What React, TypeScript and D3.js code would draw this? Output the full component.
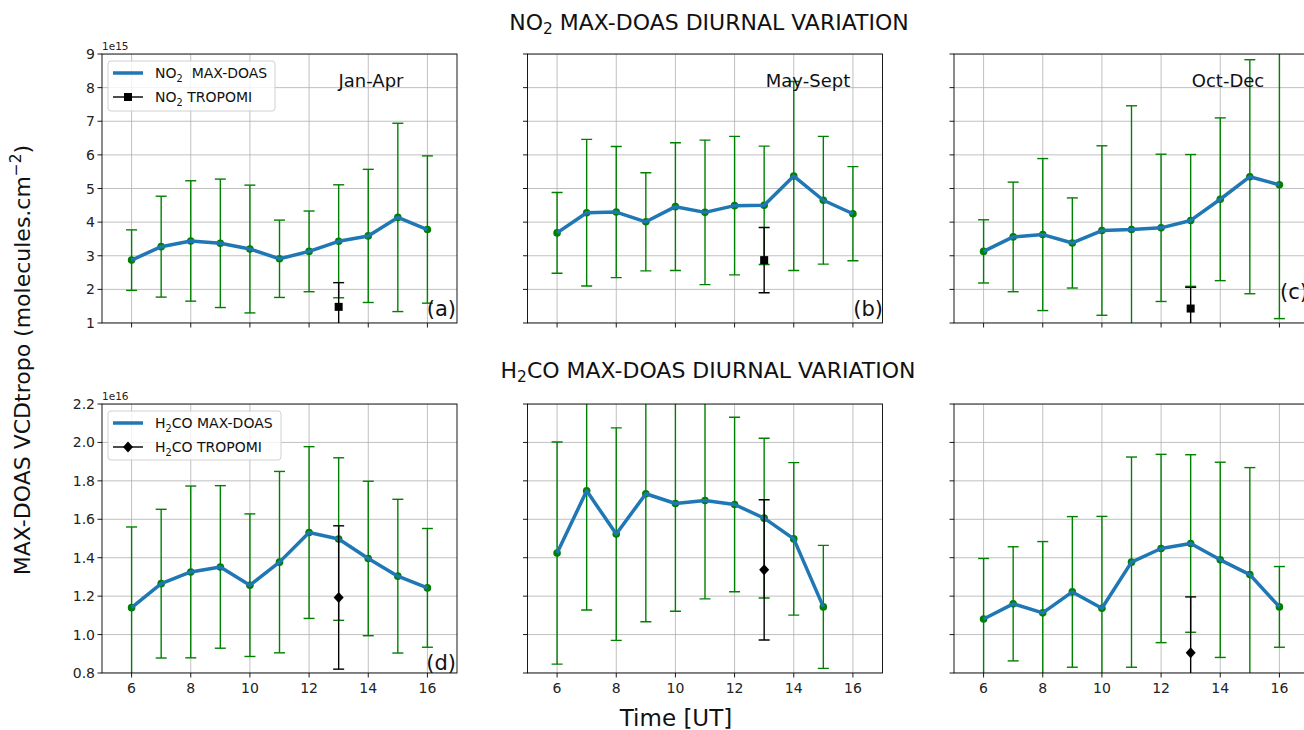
import React from 'react';
import * as d3 from 'd3';

const hours = [6, 7, 8, 9, 10, 11, 12, 13, 14, 15, 16];

// NO2 MAX-DOAS (1e15 molecules/cm2), mean and error half-width
const no2JanAprMean = [2.87, 3.27, 3.44, 3.37, 3.2, 2.91, 3.13, 3.43, 3.59, 4.14, 3.78];
const no2JanAprErr = [0.9, 1.5, 1.79, 1.91, 1.9, 1.15, 1.2, 1.68, 1.98, 2.8, 2.19];
const no2MaySeptMean = [3.68, 4.28, 4.3, 4.01, 4.46, 4.29, 4.49, 4.5, 5.37, 4.65, 4.25];
const no2MaySeptErr = [1.2, 2.18, 1.95, 1.46, 1.9, 2.15, 2.06, 1.76, 2.81, 1.9, 1.4];
const no2OctDecMean = [3.13, 3.56, 3.63, 3.38, 3.75, 3.78, 3.83, 4.05, 4.68, 5.35, 5.11];
const no2OctDecErr = [0.94, 1.63, 2.26, 1.34, 2.52, 3.68, 2.19, 1.96, 2.42, 3.48, 3.98];

// H2CO MAX-DOAS (1e16 molecules/cm2)
const h2coJanAprMean = [1.14, 1.265, 1.326, 1.352, 1.257, 1.377, 1.531, 1.497, 1.396, 1.304, 1.243];
const h2coJanAprErr = [0.42, 0.387, 0.447, 0.423, 0.371, 0.472, 0.447, 0.423, 0.402, 0.4, 0.309];
const h2coMaySeptMean = [1.424, 1.748, 1.523, 1.733, 1.682, 1.698, 1.677, 1.606, 1.498, 1.144, null];
const h2coMaySeptErr = [0.578, 0.62, 0.553, 0.666, 0.561, 0.512, 0.454, 0.416, 0.397, 0.32, null];
const h2coOctDecMean = [1.081, 1.16, 1.113, 1.222, 1.137, 1.377, 1.448, 1.474, 1.389, 1.312, 1.144];
const h2coOctDecErr = [0.315, 0.297, 0.371, 0.392, 0.478, 0.547, 0.49, 0.462, 0.508, 0.557, 0.21];

// TROPOMI overpass values
const tropomiHour = 13;
const no2TropomiMean = [1.48, 2.87, 1.43];
const no2TropomiErr = [0.72, 0.97, 0.63];
const h2coTropomiMean = [1.193, 1.337, 0.906];
const h2coTropomiErr = [0.373, 0.365, 0.29];

const seasons = ['Jan-Apr', 'May-Sept', 'Oct-Dec'];
const no2Ticks = [1, 2, 3, 4, 5, 6, 7, 8, 9];
const h2coTicks = [0.8, 1.0, 1.2, 1.4, 1.6, 1.8, 2.0, 2.2];
const xTicks = [6, 8, 10, 12, 14, 16];

const FONT = 'DejaVu Sans, sans-serif';
const GREEN = '#008000';
const BLUE = '#1f77b4';

const colLeft = [102, 527.5, 954];
const panelW = 355;
const rowTop = [54, 404];
const panelH = 269;

type PanelProps = {
  id: string;
  col: number;
  row: number;
  means: (number | null)[];
  errs: (number | null)[];
  tMean: number;
  tErr: number;
  domain: [number, number];
  ticks: number[];
  showYLabels: boolean;
  showXLabels: boolean;
  marker: 'square' | 'diamond';
};

function Panel(p: PanelProps) {
  const x0 = colLeft[p.col];
  const y0 = rowTop[p.row];
  const x = d3.scaleLinear().domain([5, 17]).range([x0, x0 + panelW]);
  const y = d3.scaleLinear().domain(p.domain).range([y0 + panelH, y0]);
  const pts = hours
    .map((h, i) => ({ h, m: p.means[i], e: p.errs[i] }))
    .filter((d) => d.m !== null) as { h: number; m: number; e: number }[];
  const line = d3
    .line<{ h: number; m: number }>()
    .x((d) => x(d.h))
    .y((d) => y(d.m));
  const cap = 5.5;
  const fmt = p.row === 0 ? (v: number) => d3.format('d')(v) : (v: number) => d3.format('.1f')(v);
  const bottom = y0 + panelH;
  return (
    <g>
      <defs>
        <clipPath id={p.id}>
          <rect x={x0} y={y0} width={panelW} height={panelH} />
        </clipPath>
      </defs>
      <rect x={x0} y={y0} width={panelW} height={panelH} fill="white" />
      <g clipPath={`url(#${p.id})`}>
        {xTicks.map((t) => (
          <line key={'gx' + t} x1={x(t)} x2={x(t)} y1={y0} y2={bottom} stroke="#b0b0b0" strokeWidth={0.8} />
        ))}
        {p.ticks.map((t) => (
          <line key={'gy' + t} x1={x0} x2={x0 + panelW} y1={y(t)} y2={y(t)} stroke="#b0b0b0" strokeWidth={0.8} />
        ))}
        {pts.map((d) => (
          <g key={'e' + d.h} stroke={GREEN} strokeWidth={1.4}>
            <line x1={x(d.h)} x2={x(d.h)} y1={y(d.m - d.e)} y2={y(d.m + d.e)} />
            <line x1={x(d.h) - cap} x2={x(d.h) + cap} y1={y(d.m - d.e)} y2={y(d.m - d.e)} />
            <line x1={x(d.h) - cap} x2={x(d.h) + cap} y1={y(d.m + d.e)} y2={y(d.m + d.e)} />
          </g>
        ))}
        {pts.map((d) => (
          <circle key={'c' + d.h} cx={x(d.h)} cy={y(d.m)} r={3.8} fill={GREEN} />
        ))}
        <path d={line(pts) || ''} fill="none" stroke={BLUE} strokeWidth={3.5} strokeLinejoin="round" />
        <g stroke="black" strokeWidth={1.4}>
          <line x1={x(tropomiHour)} x2={x(tropomiHour)} y1={y(p.tMean - p.tErr)} y2={y(p.tMean + p.tErr)} />
          <line x1={x(tropomiHour) - cap} x2={x(tropomiHour) + cap} y1={y(p.tMean - p.tErr)} y2={y(p.tMean - p.tErr)} />
          <line x1={x(tropomiHour) - cap} x2={x(tropomiHour) + cap} y1={y(p.tMean + p.tErr)} y2={y(p.tMean + p.tErr)} />
        </g>
        {p.marker === 'square' ? (
          <rect x={x(tropomiHour) - 4} y={y(p.tMean) - 4} width={8} height={8} fill="black" />
        ) : (
          <path
            d={`M${x(tropomiHour)},${y(p.tMean) - 5.5} L${x(tropomiHour) + 5},${y(p.tMean)} L${x(tropomiHour)},${y(p.tMean) + 5.5} L${x(tropomiHour) - 5},${y(p.tMean)} Z`}
            fill="black"
          />
        )}
      </g>
      <rect x={x0} y={y0} width={panelW} height={panelH} fill="none" stroke="black" strokeWidth={0.9} />
      {xTicks.map((t) => (
        <g key={'xt' + t}>
          <line x1={x(t)} x2={x(t)} y1={bottom} y2={bottom + 4.5} stroke="black" strokeWidth={0.9} />
          {p.showXLabels && (
            <text x={x(t)} y={bottom + 20} textAnchor="middle" fontSize={14} fontFamily={FONT} fill="#222">
              {t}
            </text>
          )}
        </g>
      ))}
      {p.ticks.map((t) => (
        <g key={'yt' + t}>
          <line x1={x0 - 4.5} x2={x0} y1={y(t)} y2={y(t)} stroke="black" strokeWidth={0.9} />
          {p.showYLabels && (
            <text x={x0 - 7} y={y(t) + 5} textAnchor="end" fontSize={14} fontFamily={FONT} fill="#222">
              {fmt(t)}
            </text>
          )}
        </g>
      ))}
    </g>
  );
}

function Sub({ base, sub, rest }: { base: string; sub: string; rest: string }) {
  return (
    <>
      {base}
      <tspan fontSize="70%" dy={4}>
        {sub}
      </tspan>
      <tspan dy={-4}>{rest}</tspan>
    </>
  );
}

export default function App() {
  const no2Means = [no2JanAprMean, no2MaySeptMean, no2OctDecMean];
  const no2Errs = [no2JanAprErr, no2MaySeptErr, no2OctDecErr];
  const h2coMeans = [h2coJanAprMean, h2coMaySeptMean, h2coOctDecMean];
  const h2coErrs = [h2coJanAprErr, h2coMaySeptErr, h2coOctDecErr];
  return (
    <div style={{ position: 'absolute', left: 0, top: 0 }}>
      <svg width={1304} height={730} style={{ display: 'block', background: 'white' }}>
        <rect width={1304} height={730} fill="white" />
        {[0, 1, 2].map((c) => (
          <Panel
            key={'n' + c}
            id={'clipN' + c}
            col={c}
            row={0}
            means={no2Means[c]}
            errs={no2Errs[c]}
            tMean={no2TropomiMean[c]}
            tErr={no2TropomiErr[c]}
            domain={[1, 9]}
            ticks={no2Ticks}
            showYLabels={c === 0}
            showXLabels={false}
            marker="square"
          />
        ))}
        {[0, 1, 2].map((c) => (
          <Panel
            key={'h' + c}
            id={'clipH' + c}
            col={c}
            row={1}
            means={h2coMeans[c]}
            errs={h2coErrs[c]}
            tMean={h2coTropomiMean[c]}
            tErr={h2coTropomiErr[c]}
            domain={[0.8, 2.2]}
            ticks={h2coTicks}
            showYLabels={c === 0}
            showXLabels={true}
            marker="diamond"
          />
        ))}
        {/* offset texts */}
        <text x={102} y={50} fontSize={10.5} fontFamily={FONT} fill="#222">1e15</text>
        <text x={102} y={400} fontSize={10.5} fontFamily={FONT} fill="#222">1e16</text>
        {/* season labels */}
        {seasons.map((s, i) => (
          <text key={s} x={[371, 808, 1228][i]} y={87} textAnchor="middle" fontSize={18} fontFamily={FONT} fill="#111">
            {s}
          </text>
        ))}
        {/* panel letters */}
        <text x={456} y={316} textAnchor="end" fontSize={21} fontFamily={FONT} fill="#111">(a)</text>
        <text x={883} y={316} textAnchor="end" fontSize={21} fontFamily={FONT} fill="#111">(b)</text>
        <text x={1280} y={299} fontSize={21} fontFamily={FONT} fill="#111">(c)</text>
        <text x={456} y={670} textAnchor="end" fontSize={21} fontFamily={FONT} fill="#111">(d)</text>
        {/* titles */}
        <text x={709} y={30} textAnchor="middle" fontSize={22} fontFamily={FONT} fill="#111">
          <Sub base="NO" sub="2" rest=" MAX-DOAS DIURNAL VARIATION" />
        </text>
        <text x={708} y={378} textAnchor="middle" fontSize={22} fontFamily={FONT} fill="#111">
          <Sub base="H" sub="2" rest="CO MAX-DOAS DIURNAL VARIATION" />
        </text>
        {/* legends */}
        <g>
          <rect x={108} y={61} width={167} height={50} rx={3} fill="white" fillOpacity={0.8} stroke="#d0d0d0" />
          <line x1={113} x2={143} y1={73} y2={73} stroke={BLUE} strokeWidth={3.5} />
          <text x={155} y={78} fontSize={14} fontFamily={FONT} fill="#111" style={{ whiteSpace: 'pre' }}>
            <Sub base="NO" sub="2" rest="  MAX-DOAS" />
          </text>
          <line x1={113} x2={143} y1={97} y2={97} stroke="black" strokeWidth={1.4} />
          <rect x={124} y={93} width={8} height={8} fill="black" />
          <text x={155} y={102} fontSize={14} fontFamily={FONT} fill="#111">
            <Sub base="NO" sub="2" rest=" TROPOMI" />
          </text>
        </g>
        <g>
          <rect x={108} y={411} width={173} height={49} rx={3} fill="white" fillOpacity={0.8} stroke="#d0d0d0" />
          <line x1={113} x2={143} y1={423} y2={423} stroke={BLUE} strokeWidth={3.5} />
          <text x={155} y={428} fontSize={14} fontFamily={FONT} fill="#111">
            <Sub base="H" sub="2" rest="CO MAX-DOAS" />
          </text>
          <line x1={113} x2={143} y1={447} y2={447} stroke="black" strokeWidth={1.4} />
          <path d="M128,441.5 L133,447 L128,452.5 L123,447 Z" fill="black" />
          <text x={155} y={452} fontSize={14} fontFamily={FONT} fill="#111">
            <Sub base="H" sub="2" rest="CO TROPOMI" />
          </text>
        </g>
        {/* axis labels */}
        <text x={676} y={726} textAnchor="middle" fontSize={23} fontFamily={FONT} fill="#111">
          Time [UT]
        </text>
        <text
          transform="translate(30,360) rotate(-90)"
          textAnchor="middle"
          fontSize={22}
          fontFamily={FONT}
          fill="#111"
        >
          MAX-DOAS VCDtropo (molecules.cm
          <tspan fontSize="70%" dy={-9}>
            −2
          </tspan>
          <tspan dy={9}>)</tspan>
        </text>
      </svg>
    </div>
  );
}
